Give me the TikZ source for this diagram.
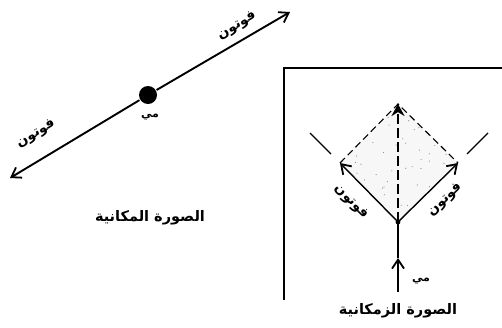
\documentclass[tikz,border=0pt]{standalone}
\usepackage{fontspec}
\newfontfamily\arabicfont[Script=Arabic]{DejaVu Sans}
\TeXXeTstate=1
\usetikzlibrary{arrows.meta,calc}
\begin{document}
\begin{tikzpicture}[x=1pt,y=-1pt,line width=1.9pt,
  lbl/.style={font=\arabicfont\bfseries\fontsize{14.5}{16}\selectfont,inner sep=0pt},
  plbl/.style={font=\arabicfont\bfseries\fontsize{13.5}{15}\selectfont,inner sep=0pt},
  small/.style={font=\arabicfont\bfseries\fontsize{11}{12}\selectfont,inner sep=0pt},
  barb/.style={-{Straight Barb[length=9pt,width=12pt,line width=1.8pt]}},
  dsh/.style={line width=1.1pt,dash pattern=on 7pt off 4pt}]
\useasboundingbox (0,0) rectangle (502,327);
% ---- spatial picture ----
\coordinate (L) at (10,178);
\coordinate (R) at (290,12);
\node[circle,fill,inner sep=0pt,minimum size=18pt] (e) at (148,95) {};
\draw[barb] (e) -- (R);
\draw[barb] (e) -- (L);
\node[plbl,rotate=30.7] (p1) at (237,26) {\beginR فوتون\endR};
\node[plbl,rotate=30.7] (p2) at (36,134) {\beginR فوتون\endR};
\node[small] (m1) at (150,117) {\beginR مي\endR};
\node[lbl] (t1) at (150,218) {\beginR الصورة المكانية\endR};
% ---- space-time picture ----
\coordinate (F1) at (502,68);
\coordinate (F2) at (284,68);
\coordinate (F3) at (284,300);
\draw[line width=1.4pt] (F1) -- (F2) -- (F3);
\coordinate (B) at (398,222);
\coordinate (Lv) at (340,163);
\coordinate (Rv) at (458,163);
\coordinate (T) at (398,104);
\coordinate (S) at (398,292);
\coordinate (M) at (398,258);
\fill[black!3] (B) -- (Lv) -- (T) -- (Rv) -- cycle;
\pgfmathsetseed{7}
\foreach \i in {1,...,40}{
  \pgfmathsetmacro{\u}{rnd}\pgfmathsetmacro{\v}{rnd}
  \fill[black!45] ($(B)+\u*(-58,-59)+\v*(60,-59)$) circle (0.6pt);
}
\draw[dsh] (Lv) -- (T) -- (Rv);
\coordinate (a1) at (331,154); \coordinate (a2) at (310,133);
\coordinate (b1) at (467,154); \coordinate (b2) at (488,133);
\draw[line width=1.1pt] (a1) -- (a2);
\draw[line width=1.1pt] (b1) -- (b2);
\draw[barb] (S) -- (M);
\draw (M) -- (B);
\draw[barb,line width=1.4pt] (B) -- (Lv);
\draw[barb,line width=1.4pt] (B) -- (Rv);
\draw[line width=2.2pt,dash pattern=on 10pt off 4pt,-{Stealth[length=12pt,width=13pt]}] (B) -- (T);
\fill (B) circle (2.4pt);
\node[plbl,rotate=-45] (p3) at (351,202) {\beginR فوتون\endR};
\node[plbl,rotate=45] (p4) at (445,200) {\beginR فوتون\endR};
\node[small] (m2) at (421,281) {\beginR مي\endR};
\node[lbl] (t2) at (398,311) {\beginR الصورة الزمكانية\endR};
\end{tikzpicture}
\end{document}
